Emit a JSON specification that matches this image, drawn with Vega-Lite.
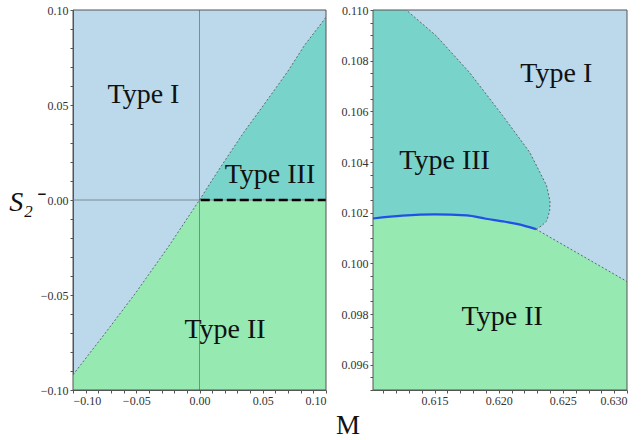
{
  "$schema": "https://vega.github.io/schema/vega-lite/v6.json",
  "padding": {"left": 8, "top": 4, "right": 5, "bottom": 0},
  "bounds": "flush",
  "spacing": 47,
  "title": {"text": "M", "orient": "bottom", "anchor": "middle", "font": "Liberation Serif", "fontSize": 27, "fontWeight": "normal", "color": "#111", "offset": 7, "dx": 30},
  "datasets": {
    "leftII": [
      {"x": -0.1, "y": -0.092},
      {"x": -0.075, "y": -0.0705},
      {"x": -0.05, "y": -0.0485},
      {"x": -0.025, "y": -0.025},
      {"x": 0, "y": 0},
      {"x": 0.1, "y": 0}
    ],
    "leftIII": [
      {"x": 0, "y": 0},
      {"x": 0.01, "y": 0.0105},
      {"x": 0.0225, "y": 0.0232},
      {"x": 0.035, "y": 0.0356},
      {"x": 0.049, "y": 0.0484},
      {"x": 0.06, "y": 0.0586},
      {"x": 0.07, "y": 0.0679},
      {"x": 0.083, "y": 0.0814},
      {"x": 0.1, "y": 0.0962}
    ],
    "leftLabels": [
      {"x": -0.0443, "y": 0.051, "label": "Type I"},
      {"x": 0.0557, "y": 0.009, "label": "Type III"},
      {"x": 0.0202, "y": -0.0726, "label": "Type II"}
    ],
    "rightIII": [
      {"x": 0.61164, "y": 0.1105},
      {"x": 0.61279, "y": 0.1100},
      {"x": 0.61513, "y": 0.10898},
      {"x": 0.61773, "y": 0.10753},
      {"x": 0.62031, "y": 0.10583},
      {"x": 0.62242, "y": 0.10438},
      {"x": 0.62373, "y": 0.10307},
      {"x": 0.62400, "y": 0.10245},
      {"x": 0.62397, "y": 0.10207},
      {"x": 0.62375, "y": 0.10168},
      {"x": 0.62335, "y": 0.10148},
      {"x": 0.62290, "y": 0.10135}
    ],
    "rightII": [
      {"x": 0.6102, "y": 0.10177},
      {"x": 0.6125, "y": 0.10188},
      {"x": 0.6150, "y": 0.10193},
      {"x": 0.6175, "y": 0.10189},
      {"x": 0.6190, "y": 0.10176},
      {"x": 0.6205, "y": 0.10164},
      {"x": 0.6215, "y": 0.10155},
      {"x": 0.6229, "y": 0.10135},
      {"x": 0.6300, "y": 0.09928}
    ],
    "rightLabels": [
      {"x": 0.62449, "y": 0.10717, "label": "Type I"},
      {"x": 0.61578, "y": 0.10374, "label": "Type III"},
      {"x": 0.62027, "y": 0.09756, "label": "Type II"}
    ]
  },
  "hconcat": [
    {
      "width": 253,
      "height": 380,
      "encoding": {
        "x": {"type": "quantitative", "scale": {"domain": [-0.1, 0.1], "nice": false, "zero": false},
          "axis": {"orient": "bottom", "title": null, "format": ".2f",
            "labelFont": "Liberation Serif", "labelColor": "#333", "labelFontSize": 12, "labelPadding": 2,
            "ticks": true, "tickColor": "#555", "tickWidth": 1, "tickSize": 3, "domain": true, "domainColor": "#555", "domainWidth": 1, "grid": false,
            "values": [-0.1,-0.09,-0.08,-0.07,-0.06,-0.05,-0.04,-0.03,-0.02,-0.01,0,0.01,0.02,0.03,0.04,0.05,0.06,0.07,0.08,0.09,0.1],
            "labelExpr": "abs(round(datum.value*100)) % 5 == 0 ? datum.label : ''"}},
        "y": {"type": "quantitative", "scale": {"domain": [-0.1, 0.1], "nice": false, "zero": false},
          "axis": {"orient": "left", "format": ".2f",
            "labelFont": "Liberation Serif", "labelColor": "#333", "labelFontSize": 12, "labelPadding": 2,
            "ticks": true, "tickColor": "#555", "tickWidth": 1, "tickSize": 3, "domain": true, "domainColor": "#555", "domainWidth": 1, "grid": false,
            "values": [-0.1,-0.09,-0.08,-0.07,-0.06,-0.05,-0.04,-0.03,-0.02,-0.01,0,0.01,0.02,0.03,0.04,0.05,0.06,0.07,0.08,0.09,0.1],
            "labelExpr": "abs(round(datum.value*100)) % 5 == 0 ? datum.label : ''",
            "title": "S₂⁻", "titleAngle": 0, "titleFont": "Liberation Serif", "titleFontSize": 28, "titleFontStyle": "italic", "titleFontWeight": "normal", "titleColor": "#111",
            "titleX": -48, "titleY": 192, "titleAlign": "center", "titleBaseline": "middle"}}
      },
      "layer": [
        {
          "data": {"name": "leftII"},
          "mark": {"type": "area", "color": "#95e9b1", "clip": true, "opacity": 1},
          "encoding": {"x": {"field": "x"}, "y": {"field": "y"}, "y2": {"datum": -0.1}}
        },
        {
          "data": {"name": "leftIII"},
          "mark": {"type": "area", "color": "#78d3ca", "clip": true, "opacity": 1},
          "encoding": {"x": {"field": "x"}, "y": {"field": "y"}, "y2": {"datum": 0}}
        },
        {
          "data": {"values": [{}]},
          "mark": {"type": "rule", "color": "#7d8a90", "strokeWidth": 1},
          "encoding": {"x": {"datum": 0}, "y": null}
        },
        {
          "data": {"values": [{}]},
          "mark": {"type": "rule", "color": "#7d8a90", "strokeWidth": 1},
          "encoding": {"y": {"datum": 0}, "x": null}
        },
        {
          "data": {"name": "leftII"},
          "transform": [{"filter": "datum.x <= 0"}],
          "mark": {"type": "line", "color": "#5d6b70", "strokeWidth": 1, "strokeDash": [2, 2], "clip": true},
          "encoding": {"x": {"field": "x"}, "y": {"field": "y"}}
        },
        {
          "data": {"name": "leftIII"},
          "mark": {"type": "line", "color": "#5d6b70", "strokeWidth": 1, "strokeDash": [2, 2], "clip": true},
          "encoding": {"x": {"field": "x"}, "y": {"field": "y"}}
        },
        {
          "data": {"values": [{}]},
          "mark": {"type": "rule", "color": "#000", "strokeWidth": 2.6, "strokeDash": [9, 4]},
          "encoding": {"x": {"datum": 0.001}, "x2": {"datum": 0.1}, "y": {"datum": 0}}
        },
        {
          "data": {"values": [{}]},
          "mark": {"type": "rect", "filled": false, "color": "#555", "strokeWidth": 1, "opacity": 1},
          "encoding": {"x": {"datum": -0.1}, "x2": {"datum": 0.1}, "y": {"datum": -0.1}, "y2": {"datum": 0.1}}
        },
        {
          "data": {"name": "leftLabels"},
          "mark": {"type": "text", "font": "Liberation Serif", "fontSize": 28, "color": "#111", "align": "center", "baseline": "alphabetic"},
          "encoding": {"x": {"field": "x"}, "y": {"field": "y"}, "text": {"field": "label"}}
        }
      ]
    },
    {
      "width": 254,
      "height": 380,
      "encoding": {
        "x": {"type": "quantitative", "scale": {"domain": [0.6102, 0.630], "nice": false, "zero": false},
          "axis": {"orient": "bottom", "title": null, "format": ".3f",
            "labelFont": "Liberation Serif", "labelColor": "#333", "labelFontSize": 12, "labelPadding": 2,
            "ticks": true, "tickColor": "#555", "tickWidth": 1, "tickSize": 3, "domain": true, "domainColor": "#555", "domainWidth": 1, "grid": false,
            "values": [0.611,0.612,0.613,0.614,0.615,0.616,0.617,0.618,0.619,0.62,0.621,0.622,0.623,0.624,0.625,0.626,0.627,0.628,0.629,0.63],
            "labelExpr": "round(datum.value*1000) % 5 == 0 ? datum.label : ''"}},
        "y": {"type": "quantitative", "scale": {"domain": [0.095, 0.110], "nice": false, "zero": false},
          "axis": {"orient": "left", "title": null, "format": ".3f",
            "labelFont": "Liberation Serif", "labelColor": "#333", "labelFontSize": 12, "labelPadding": 2,
            "ticks": true, "tickColor": "#555", "tickWidth": 1, "tickSize": 3, "domain": true, "domainColor": "#555", "domainWidth": 1, "grid": false,
            "values": [0.095,0.0955,0.096,0.0965,0.097,0.0975,0.098,0.0985,0.099,0.0995,0.1,0.1005,0.101,0.1015,0.102,0.1025,0.103,0.1035,0.104,0.1045,0.105,0.1055,0.106,0.1065,0.107,0.1075,0.108,0.1085,0.109,0.1095,0.11],
            "labelExpr": "round(datum.value*10000) % 20 == 0 ? datum.label : ''"}}
      },
      "layer": [
        {
          "data": {"name": "rightIII"},
          "mark": {"type": "area", "orient": "horizontal", "color": "#78d3ca", "clip": true, "opacity": 1},
          "encoding": {"y": {"field": "y"}, "x": {"field": "x"}, "x2": {"datum": 0.6102}}
        },
        {
          "data": {"name": "rightII"},
          "mark": {"type": "area", "color": "#95e9b1", "clip": true, "opacity": 1},
          "encoding": {"x": {"field": "x"}, "y": {"field": "y"}, "y2": {"datum": 0.095}}
        },
        {
          "data": {"name": "rightIII"},
          "mark": {"type": "line", "color": "#5d6b70", "strokeWidth": 1, "strokeDash": [2, 2], "clip": true},
          "encoding": {"x": {"field": "x"}, "y": {"field": "y"}, "order": {"field": "y", "type": "quantitative"}}
        },
        {
          "data": {"name": "rightII"},
          "transform": [{"filter": "datum.x >= 0.6229"}],
          "mark": {"type": "line", "color": "#5d6b70", "strokeWidth": 1, "strokeDash": [2, 2], "clip": true},
          "encoding": {"x": {"field": "x"}, "y": {"field": "y"}}
        },
        {
          "data": {"name": "rightII"},
          "transform": [{"filter": "datum.x <= 0.6229"}],
          "mark": {"type": "line", "color": "#2050e8", "strokeWidth": 2.2, "clip": true, "interpolate": "monotone"},
          "encoding": {"x": {"field": "x"}, "y": {"field": "y"}}
        },
        {
          "data": {"values": [{}]},
          "mark": {"type": "rect", "filled": false, "color": "#555", "strokeWidth": 1, "opacity": 1},
          "encoding": {"x": {"datum": 0.6102}, "x2": {"datum": 0.63}, "y": {"datum": 0.095}, "y2": {"datum": 0.11}}
        },
        {
          "data": {"name": "rightLabels"},
          "mark": {"type": "text", "font": "Liberation Serif", "fontSize": 28, "color": "#111", "align": "center", "baseline": "alphabetic"},
          "encoding": {"x": {"field": "x"}, "y": {"field": "y"}, "text": {"field": "label"}}
        }
      ]
    }
  ],
  "config": {
    "view": {"fill": "#bbd9ea", "stroke": null}
  }
}
